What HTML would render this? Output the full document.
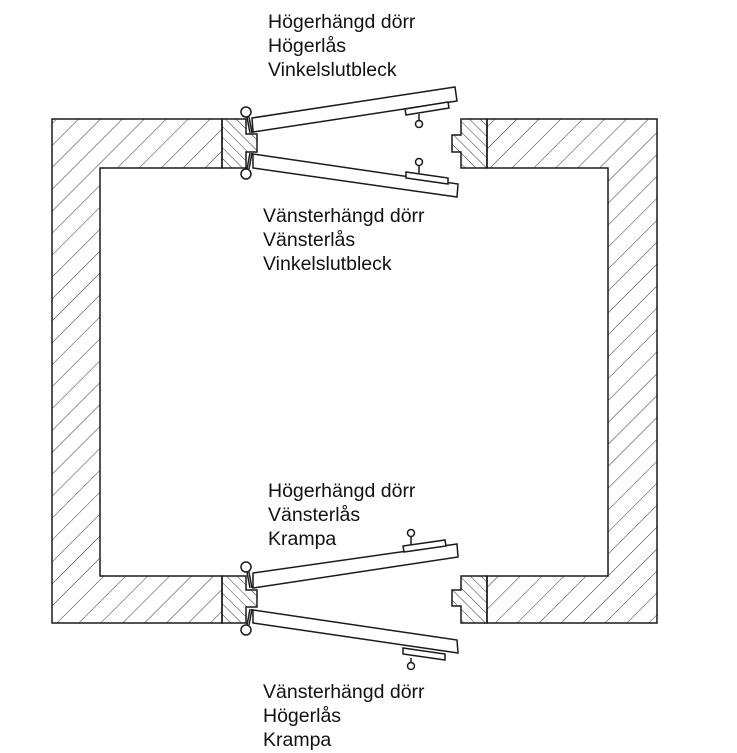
<!DOCTYPE html>
<html><head><meta charset="utf-8"><style>
html,body{margin:0;padding:0;background:#fff;width:737px;height:753px;overflow:hidden}
svg{display:block}
text{font-family:"Liberation Sans",Arial,sans-serif;font-size:19.5px;fill:#111}
</style></head><body>
<svg width="737" height="753" viewBox="0 0 737 753" xmlns="http://www.w3.org/2000/svg">
<defs>
<pattern id="h1" patternUnits="userSpaceOnUse" width="15.5" height="15.5" patternTransform="rotate(45)">
<line x1="0" y1="0" x2="0" y2="15.5" stroke="#333" stroke-width="1"/></pattern>
<pattern id="h2" patternUnits="userSpaceOnUse" width="7.5" height="7.5" patternTransform="rotate(-45)">
<line x1="0" y1="0" x2="0" y2="7.5" stroke="#333" stroke-width="1"/></pattern>
</defs>
<g stroke="#1a1a1a" stroke-width="1.5" stroke-linejoin="miter">
<path d="M52,119 L222,119 L222,168 L100,168 L100,576 L222,576 L222,623 L52,623 Z" fill="url(#h1)"/>
<path d="M487,119 L657,119 L657,623 L487,623 L487,576 L608,576 L608,168 L487,168 Z" fill="url(#h1)"/>
<path d="M222,119 L246,119 L246,134 L257,134 L257,152 L246,152 L246,168 L222,168 Z" fill="url(#h2)"/>
<path d="M461,119 L487,119 L487,168 L461,168 L461,152 L452,152 L452,135 L461,135 Z" fill="url(#h2)"/>
<path d="M222,576 L246,576 L246,590 L257,590 L257,607 L246,607 L246,623 L222,623 Z" fill="url(#h2)"/>
<path d="M461,576 L487,576 L487,623 L461,623 L461,606 L452,606 L452,590 L461,590 Z" fill="url(#h2)"/>
<path d="M252,118 L455,87 L457,101 L253,132 Z" fill="#fff"/>
<path d="M405,109 L448,102 L449,108 L406,115 Z" fill="#fff"/>
<line x1="419" y1="114" x2="419" y2="121"/><circle cx="419" cy="124" r="3.5" fill="#fff"/>
<path d="M253,154 L458,184 L457,197 L253,168 Z" fill="#fff"/>
<path d="M406,172 L448,178 L448,184 L406,178 Z" fill="#fff"/>
<line x1="419" y1="165" x2="419" y2="173"/><circle cx="419" cy="162" r="3.5" fill="#fff"/>
<line x1="247" y1="117" x2="250" y2="133"/><line x1="249" y1="117" x2="252" y2="133"/>
<circle cx="246" cy="112" r="5" fill="#fff"/>
<line x1="247" y1="169" x2="250" y2="153"/><line x1="249" y1="169" x2="252" y2="153"/>
<circle cx="246" cy="174" r="5" fill="#fff"/>
<path d="M253,573 L457,544 L458,557 L253,588 Z" fill="#fff"/>
<path d="M403,546 L445,540 L446,546 L404,552 Z" fill="#fff"/>
<line x1="411" y1="536" x2="411" y2="545"/><circle cx="411" cy="533" r="3.5" fill="#fff"/>
<path d="M253,610 L457,640 L458,653 L253,623 Z" fill="#fff"/>
<path d="M403,648 L445,654 L445,660 L403,654 Z" fill="#fff"/>
<line x1="411" y1="658" x2="411" y2="663"/><circle cx="411" cy="666" r="3.5" fill="#fff"/>
<line x1="247" y1="572" x2="250" y2="588"/><line x1="249" y1="572" x2="252" y2="588"/>
<circle cx="246" cy="567" r="5" fill="#fff"/>
<line x1="247" y1="625" x2="250" y2="609"/><line x1="249" y1="625" x2="252" y2="609"/>
<circle cx="246" cy="630" r="5" fill="#fff"/>
</g>
<text x="268" y="28">Högerhängd dörr</text>
<text x="268" y="52">Högerlås</text>
<text x="268" y="76">Vinkelslutbleck</text>
<text x="263" y="222">Vänsterhängd dörr</text>
<text x="263" y="246">Vänsterlås</text>
<text x="263" y="270">Vinkelslutbleck</text>
<text x="268" y="497">Högerhängd dörr</text>
<text x="268" y="521">Vänsterlås</text>
<text x="268" y="545">Krampa</text>
<text x="263" y="698">Vänsterhängd dörr</text>
<text x="263" y="722">Högerlås</text>
<text x="263" y="746">Krampa</text>
</svg>
</body></html>
